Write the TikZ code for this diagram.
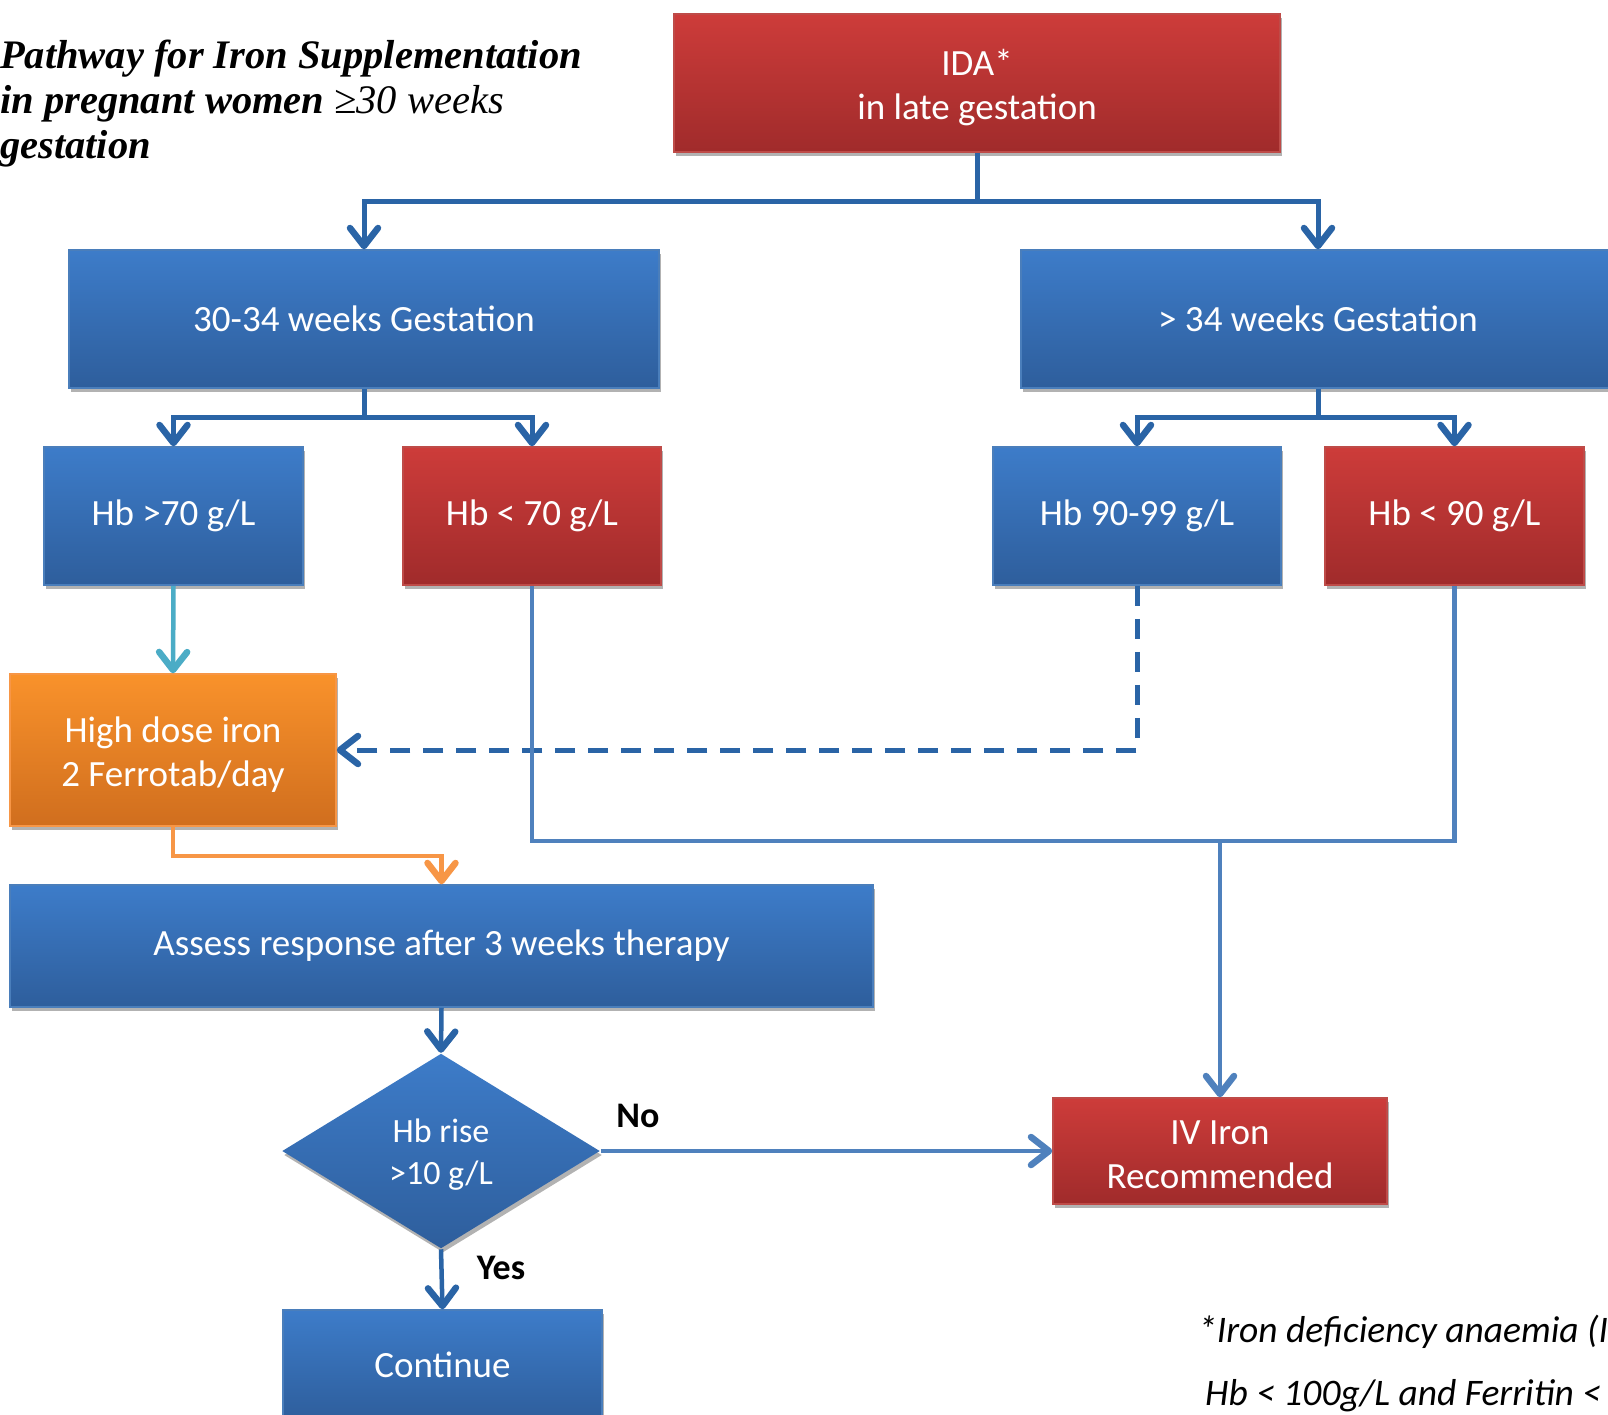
\documentclass[tikz,border=0pt]{standalone}
\usepackage{fontspec}
\setmainfont{Carlito}
\newfontfamily\titlefont{Liberation Serif}
\usetikzlibrary{arrows.meta,shapes.geometric,shadows}
\definecolor{bluetop}{HTML}{3D7CC9}
\definecolor{bluebot}{HTML}{2E5E9C}
\definecolor{bluebd}{HTML}{4A7EBB}
\definecolor{redtop}{HTML}{CD3C3A}
\definecolor{redbot}{HTML}{A02B2B}
\definecolor{redbd}{HTML}{BE4B48}
\definecolor{ortop}{HTML}{F9922B}
\definecolor{orbot}{HTML}{D06E1E}
\definecolor{orbd}{HTML}{F79646}
\definecolor{treeblue}{HTML}{2A64A6}
\definecolor{lineblue}{HTML}{4F81BD}
\definecolor{cyanline}{HTML}{4BACC6}
\definecolor{orline}{HTML}{F79646}
\begin{document}
\begin{tikzpicture}[x=1pt,y=-1pt,
  box/.style={draw, line width=1.5pt, inner sep=0pt, align=center, text=white,
    font=\fontsize{37pt}{44pt}\selectfont,
    drop shadow={shadow xshift=2pt, shadow yshift=-4pt, opacity=0.3, fill=black}},
  bluebox/.style={box, draw=bluebd, top color=bluetop, bottom color=bluebot},
  redbox/.style={box, draw=redbd, top color=redtop, bottom color=redbot},
  orbox/.style={box, draw=orbd, top color=ortop, bottom color=orbot},
  arr/.style={-{Straight Barb[length=18pt,width=28pt,line width=6.5pt,round]}},
  tree/.style={draw=treeblue, line width=5pt},
  lite/.style={draw=lineblue, line width=4.5pt},
  titletxt/.style={anchor=base west, inner sep=0pt, font=\titlefont\bfseries\itshape\fontsize{40.5pt}{45pt}\selectfont},
  notetxt/.style={anchor=base west, inner sep=0pt, font=\itshape\fontsize{37.5pt}{44pt}\selectfont},
  lbl/.style={inner sep=0pt, font=\bfseries\fontsize{36pt}{44pt}\selectfont}
]
\path[use as bounding box, clip] (0,0) rectangle (1608,1414);
\fill[white] (0,0) rectangle (1608,1414);

% title
\node[titletxt] (t1) at (0,68) {Pathway for Iron Supplementation};
\node[titletxt] (t2) at (0,113) {in pregnant women {\mdseries ≥30 weeks}};
\node[titletxt] (t3) at (0,158) {gestation};

% boxes
\node[redbox, minimum width=606pt, minimum height=138pt] (ida) at (977,83) {\rule{0pt}{36pt}IDA*\\in late gestation};
\node[bluebox, minimum width=590pt, minimum height=138pt] (g1) at (364,319) {30-34 weeks Gestation};
\node[bluebox, minimum width=594pt, minimum height=138pt] (g2) at (1318,319) {> 34 weeks Gestation};
\node[bluebox, minimum width=259pt, minimum height=138pt] (h1) at (173.5,516) {Hb >70 g/L};
\node[redbox, minimum width=258pt, minimum height=138pt] (h2) at (532,516) {Hb < 70 g/L};
\node[bluebox, minimum width=288pt, minimum height=138pt] (h3) at (1137,516) {Hb 90-99 g/L};
\node[redbox, minimum width=259pt, minimum height=138pt] (h4) at (1454.5,516) {Hb < 90 g/L};
\node[orbox, minimum width=326pt, minimum height=152pt] (hd) at (173,750) {\rule{0pt}{34pt}High dose iron\\2 Ferrotab/day};
\node[bluebox, minimum width=863pt, minimum height=122pt] (as) at (441.5,946) {Assess response after 3 weeks therapy};
\node[bluebox, shape=diamond, draw=none, minimum width=318pt, minimum height=195pt, font=\fontsize{34pt}{42pt}\selectfont] (dm) at (441,1151) {\rule{0pt}{30pt}Hb rise\\>10 g/L};
\node[redbox, minimum width=334pt, minimum height=106pt] (iv) at (1220,1151) {\rule{0pt}{32pt}IV Iron\\Recommended};
\node[bluebox, minimum width=319pt, minimum height=110pt] (ct) at (442.5,1365) {Continue};

% junctions
\coordinate (j1) at (977,201);
\coordinate (j2) at (364,417);
\coordinate (j3) at (1318,417);
\coordinate (j4) at (1220,841);
\coordinate (j5) at (173,856);

% connectors
\draw[tree] (ida.south) -- (j1);
\draw[tree,arr] (j1) -| (g1.north);
\draw[tree,arr] (j1) -| (g2.north);
\draw[tree] (g1.south) -- (j2);
\draw[tree,arr] (j2) -| (h1.north);
\draw[tree,arr] (j2) -| (h2.north);
\draw[tree] (g2.south) -- (j3);
\draw[tree,arr] (j3) -| (h3.north);
\draw[tree,arr] (j3) -| (h4.north);
\draw[draw=cyanline, line width=4.5pt, arr] (h1.south) -- (hd.north);
\draw[tree, dash pattern=on 20pt off 13pt, arr] (h3.south) |- (hd.east);
\draw[lite] (h2.south) |- (j4) -| (h4.south);
\draw[lite, arr] (j4) -- (iv.north);
\draw[draw=orline, line width=4.5pt, arr] (hd.south) -- (j5) -| (as.north);
\draw[tree, line width=4.5pt, arr] (as.south) -- (dm.north);
\draw[lite, arr] (dm.east) -- (iv.west);
\draw[tree, line width=4.5pt, arr] (dm.south) -- (ct.north);

% labels
\node[lbl] (no) at (638,1116) {No};
\node[lbl] (yes) at (501,1268) {Yes};

% footnote
\node[notetxt] (n1) at (1198,1342) {*Iron deficiency anaemia (IDA)};
\node[notetxt] (n2) at (1205,1405) {Hb < 100g/L and Ferritin <};
\end{tikzpicture}
\end{document}
